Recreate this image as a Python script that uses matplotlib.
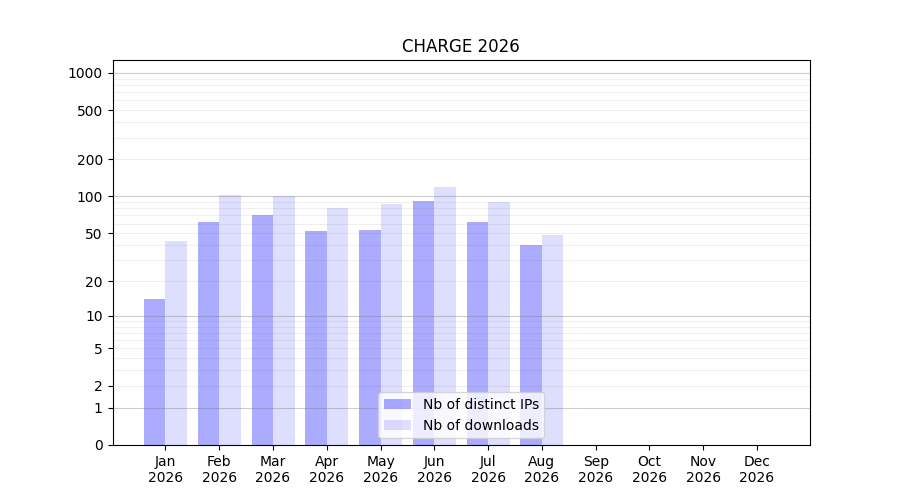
import numpy as np
import matplotlib
matplotlib.use("Agg")
import matplotlib.pyplot as plt
from matplotlib.ticker import FixedLocator, NullFormatter

months = ["Jan", "Feb", "Mar", "Apr", "May", "Jun",
          "Jul", "Aug", "Sep", "Oct", "Nov", "Dec"]
year = "2026"
distinct_ips = [14, 62, 71, 52, 53, 92, 62, 40]
downloads = [43, 103, 101, 80, 87, 119, 90, 48]

fig, ax = plt.subplots(figsize=(9, 5), dpi=100)

# log10(1 + x) scale so that zero fits on the axis
ax.set_yscale("function", functions=(lambda v: np.log10(1 + np.clip(v, 0, None)),
                                     lambda v: 10 ** v - 1))

x = np.arange(len(distinct_ips))
w = 0.4
ax.bar(x - w / 2, distinct_ips, width=w, color="blue", alpha=0.33,
       label="Nb of distinct IPs")
ax.bar(x + w / 2, downloads, width=w, color="blue", alpha=0.13,
       label="Nb of downloads")

ax.set_ylim(0, 1270)
ax.set_xlim(-0.985, len(months) - 1 + 0.985)

ax.yaxis.set_major_locator(FixedLocator([0, 1, 2, 5, 10, 20, 50, 100, 200, 500, 1000]))
ax.yaxis.set_major_formatter(matplotlib.ticker.FuncFormatter(lambda v, p: "%d" % round(v)))
minor = [m * d for d in (1, 10, 100) for m in range(2, 10)]
ax.yaxis.set_minor_locator(FixedLocator(minor))
ax.yaxis.set_minor_formatter(NullFormatter())
ax.tick_params(axis="y", which="minor", length=0)

for d in (1, 10, 100, 1000):
    ax.axhline(d, color="grey", alpha=0.4, linewidth=0.8, zorder=1.5)
for m in minor:
    ax.axhline(m, color="grey", alpha=0.12, linewidth=0.8, zorder=1.5)

ax.set_xticks(np.arange(len(months)))
ax.set_xticklabels(["%s\n%s" % (m, year) for m in months])

ax.set_title("CHARGE 2026")
ax.legend(loc="lower center")

fig.savefig("out.png")
